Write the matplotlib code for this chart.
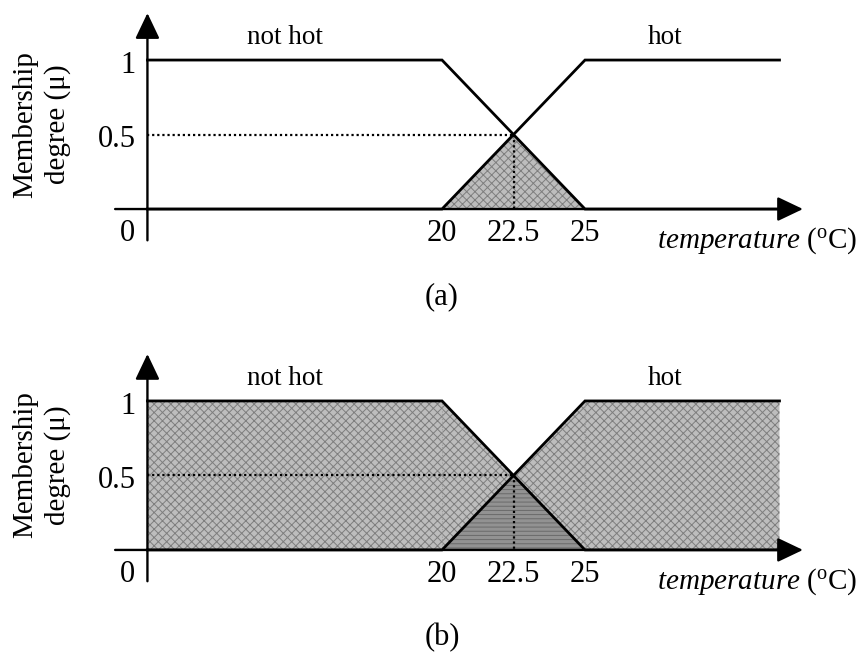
import numpy as np
import matplotlib
matplotlib.use('Agg')
import matplotlib.pyplot as plt

plt.rcParams['font.family'] = ['Liberation Serif', 'DejaVu Serif']
plt.rcParams['mathtext.fontset'] = 'custom'
plt.rcParams['mathtext.rm'] = 'Liberation Serif'
plt.rcParams['mathtext.it'] = 'Liberation Serif:italic'
plt.rcParams['hatch.linewidth'] = 0.7

# membership functions, sampled at their breakpoints
temperature = np.array([9.7, 20.0, 22.5, 25.0, 31.8])
not_hot = np.array([1.0, 1.0, 0.5, 0.0, 0.0])
hot = np.array([0.0, 0.0, 0.5, 1.0, 1.0])

x_ticks = [20, 22.5, 25]
x_tick_labels = ['20', '22.5', '25']
y_ticks = [1, 0.5]
y_tick_labels = ['1', '0.5']
cross_t, cross_mu = 22.5, 0.5

# schematic axis extents
y_axis_x = temperature[0]
x_axis_start, x_axis_end = 8.57, 32.62
y_axis_bottom, y_axis_top = -0.21, 1.315

LW = 2.0
DOT = (0, (1.0, 1.3))


def arrow(ax, start, end):
    ax.annotate('', xy=end, xytext=start,
                arrowprops=dict(arrowstyle='-|>,head_length=1.05,head_width=0.5',
                                mutation_scale=15, lw=1.7, color='black',
                                shrinkA=0, shrinkB=0),
                annotation_clip=False)


def draw_panel(ax, caption, shade_union):
    ax.set_xlim(4.545, 34.65)
    ax.axis('off')

    if shade_union:
        ax.fill_between(temperature, 0, np.maximum(not_hot, hot),
                        facecolor='#bdbdbd', edgecolor='#7e7e7e', hatch='xxxx',
                        linewidth=0)
        for t in (20, 25):
            ax.plot([t, t], [0, 1], color='#9a9a9a', lw=0.8, ls=DOT)
        ax.fill_between(temperature, 0, np.minimum(not_hot, hot),
                        facecolor='#929292', edgecolor='#6a6a6a', hatch='----',
                        linewidth=0)
    else:
        ax.fill_between(temperature, 0, np.minimum(not_hot, hot),
                        facecolor='#bdbdbd', edgecolor='#7e7e7e', hatch='xxxx',
                        linewidth=0)

    # dotted guides to the crossover point
    ax.plot([y_axis_x, cross_t], [cross_mu, cross_mu], color='black', lw=1.6, ls=DOT)
    ax.plot([cross_t, cross_t], [cross_mu, 0], color='black', lw=1.6, ls=DOT)

    ax.plot(temperature, not_hot, color='black', lw=LW, solid_joinstyle='miter')
    ax.plot(temperature, hot, color='black', lw=LW, solid_joinstyle='miter')

    arrow(ax, (x_axis_start, 0), (x_axis_end, 0))
    arrow(ax, (y_axis_x, y_axis_bottom), (y_axis_x, y_axis_top))

    for t, lab in zip(x_ticks, x_tick_labels):
        ax.text(t, -0.215, lab, ha='center', va='baseline', fontsize=22)
    ax.text(9.27, -0.215, '0', ha='right', va='baseline', fontsize=22)
    for mu, lab in zip(y_ticks, y_tick_labels):
        ax.text(9.28, mu - 0.085, lab, ha='right', va='baseline', fontsize=22)

    ax.text(14.5, 1.11, 'not hot', ha='center', va='baseline', fontsize=19.5)
    ax.text(27.8, 1.11, 'hot', ha='center', va='baseline', fontsize=19.5)
    ax.text(27.52, -0.26, r'$\mathit{temperature}$ ($^{\mathrm{o}}$C)',
            ha='left', va='baseline', fontsize=21)
    ax.text(6.0, 0.57, 'Membership\ndegree (\u03bc)', rotation=90,
            ha='center', va='center', multialignment='center',
            fontsize=21, linespacing=1.3)
    ax.text(20.0, -0.64, caption, ha='center', va='baseline', fontsize=22)


fig = plt.figure(figsize=(8.61, 6.52), dpi=100)
ax_a = fig.add_axes([0, 0.5, 1, 0.5])
ax_a.set_ylim(-0.785, 1.403)
draw_panel(ax_a, '(a)', shade_union=False)

ax_b = fig.add_axes([0, 0.0, 1, 0.5])
ax_b.set_ylim(-0.685, 1.503)
draw_panel(ax_b, '(b)', shade_union=True)

fig.savefig('out.png', dpi=100)
